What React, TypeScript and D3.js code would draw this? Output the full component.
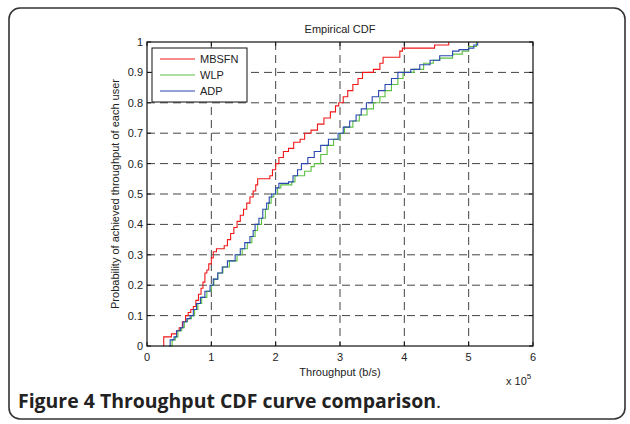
import React from 'react';
import * as d3 from 'd3';

// CDF step points [throughput (x1e5 b/s), cumulative probability]
const mbsfn: [number, number][] = [
  [0.25, 0], [0.26, 0.03], [0.38, 0.04], [0.46, 0.05], [0.5, 0.06], [0.55, 0.08], [0.6, 0.1],
  [0.64, 0.11], [0.68, 0.12], [0.72, 0.13], [0.76, 0.15], [0.8, 0.17], [0.84, 0.19], [0.87, 0.21],
  [0.9, 0.24], [0.93, 0.25], [0.96, 0.27], [1.0, 0.29], [1.03, 0.31], [1.08, 0.32], [1.2, 0.33],
  [1.25, 0.35], [1.3, 0.37], [1.35, 0.39], [1.4, 0.41], [1.45, 0.43], [1.5, 0.45], [1.55, 0.47],
  [1.6, 0.49], [1.65, 0.51], [1.69, 0.53], [1.72, 0.55], [1.91, 0.56], [1.95, 0.58], [2.0, 0.6],
  [2.05, 0.62], [2.12, 0.64], [2.2, 0.65], [2.28, 0.67], [2.38, 0.68], [2.45, 0.7], [2.55, 0.71],
  [2.65, 0.73], [2.75, 0.75], [2.85, 0.77], [2.93, 0.79], [2.98, 0.8], [3.05, 0.82], [3.12, 0.84],
  [3.2, 0.86], [3.28, 0.88], [3.35, 0.9], [3.52, 0.91], [3.62, 0.93], [3.67, 0.95], [3.93, 0.97],
  [3.97, 0.98], [4.47, 0.99], [4.69, 1.0],
];

const wlp: [number, number][] = [
  [0.37, 0], [0.39, 0.02], [0.44, 0.03], [0.48, 0.05], [0.54, 0.06], [0.58, 0.08], [0.63, 0.09],
  [0.69, 0.1], [0.74, 0.12], [0.79, 0.14], [0.85, 0.16], [0.93, 0.18], [1.0, 0.2], [1.04, 0.22],
  [1.1, 0.24], [1.18, 0.26], [1.28, 0.28], [1.4, 0.3], [1.48, 0.32], [1.56, 0.34], [1.63, 0.36],
  [1.68, 0.38], [1.72, 0.4], [1.78, 0.42], [1.84, 0.45], [1.89, 0.47], [1.93, 0.49], [1.97, 0.5],
  [2.03, 0.52], [2.08, 0.53], [2.25, 0.54], [2.3, 0.56], [2.45, 0.575], [2.55, 0.59], [2.6, 0.6],
  [2.7, 0.63], [2.8, 0.66], [2.9, 0.68], [3.0, 0.7], [3.07, 0.72], [3.2, 0.74], [3.3, 0.76],
  [3.42, 0.78], [3.52, 0.8], [3.62, 0.82], [3.7, 0.84], [3.8, 0.86], [3.9, 0.88], [3.98, 0.9],
  [4.15, 0.91], [4.3, 0.93], [4.45, 0.94], [4.55, 0.947], [4.75, 0.96], [4.9, 0.97], [5.0, 0.985],
  [5.12, 1.0],
];

const adp: [number, number][] = [
  [0.34, 0], [0.36, 0.02], [0.42, 0.03], [0.46, 0.05], [0.52, 0.06], [0.56, 0.08], [0.62, 0.09],
  [0.67, 0.1], [0.72, 0.12], [0.77, 0.14], [0.83, 0.16], [0.9, 0.18], [0.98, 0.2], [1.03, 0.22],
  [1.1, 0.24], [1.17, 0.26], [1.25, 0.28], [1.37, 0.3], [1.45, 0.32], [1.52, 0.34], [1.6, 0.36],
  [1.65, 0.38], [1.68, 0.4], [1.74, 0.42], [1.8, 0.45], [1.86, 0.47], [1.9, 0.49], [1.94, 0.5],
  [2.0, 0.52], [2.05, 0.535], [2.2, 0.54], [2.27, 0.56], [2.34, 0.58], [2.4, 0.6], [2.5, 0.62],
  [2.6, 0.64], [2.7, 0.66], [2.82, 0.68], [2.97, 0.7], [3.05, 0.72], [3.15, 0.74], [3.25, 0.76],
  [3.33, 0.78], [3.41, 0.8], [3.5, 0.82], [3.6, 0.84], [3.7, 0.86], [3.8, 0.88], [3.9, 0.9],
  [4.1, 0.91], [4.24, 0.925], [4.4, 0.94], [4.55, 0.955], [4.75, 0.97], [4.85, 0.975], [5.0, 0.98],
  [5.08, 0.99], [5.14, 1.0],
];

const series = [
  { name: 'MBSFN', color: '#f01818', data: mbsfn },
  { name: 'WLP', color: '#5cc040', data: wlp },
  { name: 'ADP', color: '#2a48b0', data: adp },
];

const xTicks = [0, 1, 2, 3, 4, 5, 6];
const yTicks = [0, 0.1, 0.2, 0.3, 0.4, 0.5, 0.6, 0.7, 0.8, 0.9, 1];

const W = 630;
const H = 424;
const plot = { left: 147, right: 533, top: 42, bottom: 346 };
const font = "'Liberation Sans', Arial, sans-serif";

export default function App() {
  const x = d3.scaleLinear().domain([0, 6]).range([plot.left, plot.right]);
  const y = d3.scaleLinear().domain([0, 1]).range([plot.bottom, plot.top]);
  const line = d3.line<[number, number]>()
    .x(d => x(d[0]))
    .y(d => y(d[1]))
    .curve(d3.curveStepAfter);

  const tick = 4;

  return (
    <div style={{ position: 'absolute', left: 0, top: 0 }}>
      <svg width={W} height={H} style={{ display: 'block' }}>
        <rect x={0} y={0} width={W} height={H} fill="#fff" />
        {/* outer figure frame */}
        <rect x={9} y={8} width={616} height={411} rx={11} ry={11}
          fill="none" stroke="#333" strokeWidth={1.6} />

        <text x={340} y={33} textAnchor="middle" fontFamily={font} fontSize={11} fill="#222">Empirical CDF</text>

        {/* grid */}
        {xTicks.slice(1, -1).map(t => (
          <line key={'gx' + t} x1={x(t)} x2={x(t)} y1={plot.top} y2={plot.bottom}
            stroke="#444" strokeWidth={1} strokeDasharray="8,5" />
        ))}
        {yTicks.slice(1, -1).map(t => (
          <line key={'gy' + t} x1={plot.left} x2={plot.right} y1={y(t)} y2={y(t)}
            stroke="#444" strokeWidth={1} strokeDasharray="8,5" />
        ))}

        {/* curves */}
        {series.map(s => (
          <path key={s.name} d={line(s.data) || ''} fill="none" stroke={s.color} strokeWidth={1.1} />
        ))}

        {/* axes box and ticks */}
        <rect x={plot.left} y={plot.top} width={plot.right - plot.left} height={plot.bottom - plot.top}
          fill="none" stroke="#111" strokeWidth={1.2} />
        {xTicks.map(t => (
          <g key={'tx' + t}>
            <line x1={x(t)} x2={x(t)} y1={plot.bottom} y2={plot.bottom - tick} stroke="#111" />
            <line x1={x(t)} x2={x(t)} y1={plot.top} y2={plot.top + tick} stroke="#111" />
            <text x={x(t)} y={plot.bottom + 15} textAnchor="middle" fontFamily={font} fontSize={11} fill="#222">{t}</text>
          </g>
        ))}
        {yTicks.map(t => (
          <g key={'ty' + t}>
            <line x1={plot.left} x2={plot.left + tick} y1={y(t)} y2={y(t)} stroke="#111" />
            <line x1={plot.right} x2={plot.right - tick} y1={y(t)} y2={y(t)} stroke="#111" />
            <text x={plot.left - 4} y={y(t) + 4} textAnchor="end" fontFamily={font} fontSize={11} fill="#222">{t}</text>
          </g>
        ))}

        <text x={340} y={376} textAnchor="middle" fontFamily={font} fontSize={11} fill="#222">Throughput (b/s)</text>
        <text x={506} y={385} fontFamily={font} fontSize={11} fill="#222">x 10<tspan dy={-6} fontSize={8}>5</tspan></text>
        <text transform={`translate(119, ${(plot.top + plot.bottom) / 2}) rotate(-90)`} textAnchor="middle"
          fontFamily={font} fontSize={11} fill="#222">Probability of achieved throughput of each user</text>

        {/* legend */}
        <rect x={152} y={48} width={95} height={54} fill="#fff" stroke="#111" strokeWidth={1} />
        {series.map((s, i) => (
          <g key={'lg' + s.name}>
            <line x1={160} x2={195} y1={59 + i * 16} y2={59 + i * 16} stroke={s.color} strokeWidth={1.1} />
            <text x={200} y={63 + i * 16} fontFamily={font} fontSize={11} fill="#222">{s.name}</text>
          </g>
        ))}

        <text x={18} y={408} fontFamily="'Open Sans', 'Noto Sans', sans-serif" fontSize={19} fill="#222">
          <tspan fontWeight="bold" textLength={418} lengthAdjust="spacingAndGlyphs">Figure 4 Throughput CDF curve comparison</tspan>
          <tspan>.</tspan>
        </text>
      </svg>
    </div>
  );
}
